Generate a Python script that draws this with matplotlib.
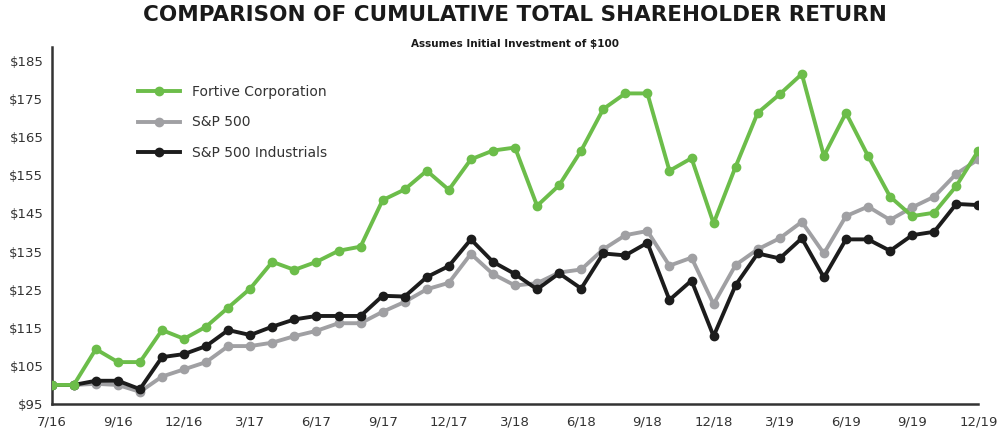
import numpy as np
import matplotlib.pyplot as plt

# month-end values, first point = initial investment (7/16)
fortive = [100, 100, 109.4, 106, 106, 114.4, 112.1, 115.3, 120.3, 125.3, 132.3, 130.2,
           132.3, 135.2, 136.3, 148.5, 151.3, 156.2, 151.2, 159.2, 161.5, 162.3, 147.0,
           152.4, 161.5, 172.4, 176.5, 176.5, 156.2, 159.5, 142.4, 157.3, 171.4, 176.3,
           181.6, 160.1, 171.4, 160.1, 149.4, 144.3, 145.2, 152.2, 161.5]
sp500 = [100, 100, 100.3, 100, 98.2, 102.2, 104.1, 106, 110.2, 110.2, 111.1, 112.8,
         114.2, 116.2, 116.2, 119.2, 121.8, 125.1, 126.8, 134.4, 129.1, 126.1, 126.7,
         129.5, 130.3, 135.6, 139.3, 140.4, 131.3, 133.4, 121.2, 131.5, 135.6, 138.5,
         142.8, 134.5, 144.3, 146.8, 143.3, 146.6, 149.4, 155.4, 159.2]
sp500_ind = [100, 100, 101.1, 101.1, 98.9, 107.3, 108.1, 110.2, 114.4, 113.1, 115.3, 117.2,
             118.1, 118.1, 118.1, 123.4, 123.2, 128.3, 131.2, 138.2, 132.3, 129.1, 125.1,
             129.3, 125.3, 134.5, 134.0, 137.3, 122.3, 127.4, 112.8, 126.2, 134.5, 133.2,
             138.5, 128.2, 138.2, 138.2, 135.2, 139.3, 140.2, 147.5, 147.2]
x_labels = ["7/16", "9/16", "12/16", "3/17", "6/17", "9/17", "12/17", "3/18",
            "6/18", "9/18", "12/18", "3/19", "6/19", "9/19", "12/19"]
y_ticks = [95, 105, 115, 125, 135, 145, 155, 165, 175, 185]

x = np.arange(len(fortive))
tick_pos = [0] + list(range(3, len(fortive), 3))

fig = plt.figure(figsize=(9.98, 4.32), dpi=100)
ax = fig.add_axes([0.0518, 0.0648, 0.9285, 0.8257])

ax.plot(x, sp500, color="#a0a0a3", lw=2.8, marker="o", ms=6, label="S&P 500", zorder=2)
ax.plot(x, sp500_ind, color="#1c1c1c", lw=2.8, marker="o", ms=6, label="S&P 500 Industrials", zorder=3)
ax.plot(x, fortive, color="#6cbd4a", lw=2.8, marker="o", ms=6, label="Fortive Corporation", zorder=4)

ax.set_xlim(0, len(fortive) - 1)
ax.set_ylim(95, 188.6)
ax.set_xticks(tick_pos)
ax.set_xticklabels(x_labels)
ax.set_yticks(y_ticks)
ax.set_yticklabels(["$%d" % v for v in y_ticks])
ax.tick_params(length=0, labelsize=9.5, colors="#333333")
ax.tick_params(axis="x", pad=8)
ax.tick_params(axis="y", pad=6)
for s in ["top", "right"]:
    ax.spines[s].set_visible(False)
for s in ["left", "bottom"]:
    ax.spines[s].set_color("#333333")
    ax.spines[s].set_linewidth(1.8)

h, l = ax.get_legend_handles_labels()
order = [2, 0, 1]
ax.legend([h[i] for i in order], [l[i] for i in order], loc="upper left",
          bbox_to_anchor=(0.08, 0.93), frameon=False, fontsize=10,
          handlelength=3.0, handletextpad=0.9, labelspacing=1.2, labelcolor="#333333")

fig.text(0.516, 0.965, "COMPARISON OF CUMULATIVE TOTAL SHAREHOLDER RETURN",
         ha="center", va="center", fontsize=15.5, fontweight="heavy", color="#1a1a1a")
fig.text(0.516, 0.898, "Assumes Initial Investment of $100",
         ha="center", va="center", fontsize=7.5, fontweight="bold", color="#1a1a1a")

fig.savefig("out.png", dpi=100)
